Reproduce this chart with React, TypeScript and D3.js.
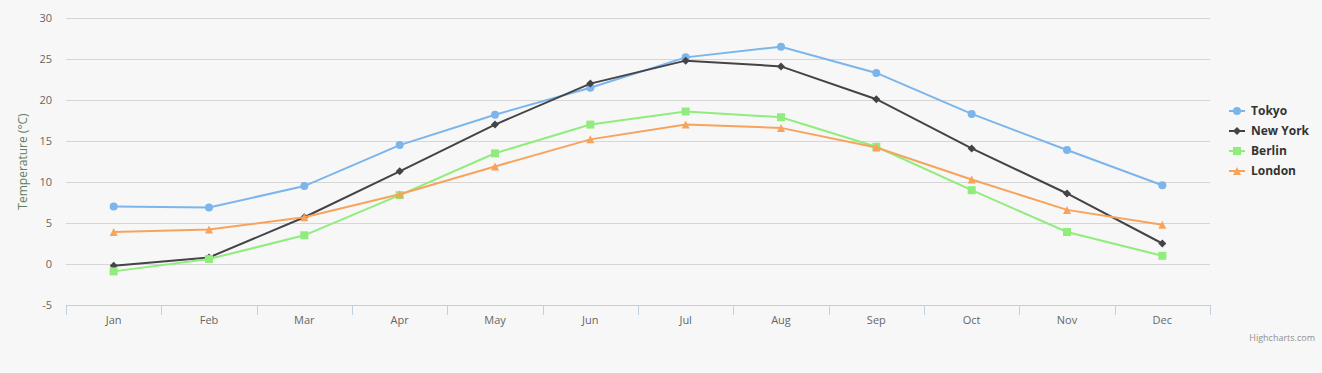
import React from 'react';
import * as d3 from 'd3';

// monthly average temperatures
const months = ['Jan', 'Feb', 'Mar', 'Apr', 'May', 'Jun', 'Jul', 'Aug', 'Sep', 'Oct', 'Nov', 'Dec'];
const tokyo = [7.0, 6.9, 9.5, 14.5, 18.2, 21.5, 25.2, 26.5, 23.3, 18.3, 13.9, 9.6];
const newYork = [-0.2, 0.8, 5.7, 11.3, 17.0, 22.0, 24.8, 24.1, 20.1, 14.1, 8.6, 2.5];
const berlin = [-0.9, 0.6, 3.5, 8.4, 13.5, 17.0, 18.6, 17.9, 14.3, 9.0, 3.9, 1.0];
const london = [3.9, 4.2, 5.7, 8.5, 11.9, 15.2, 17.0, 16.6, 14.2, 10.3, 6.6, 4.8];
const yTicks = [-5, 0, 5, 10, 15, 20, 25, 30];

const series = [
  { name: 'Tokyo', data: tokyo, color: '#7cb5ec', marker: 'circle' },
  { name: 'New York', data: newYork, color: '#434348', marker: 'diamond' },
  { name: 'Berlin', data: berlin, color: '#90ed7d', marker: 'square' },
  { name: 'London', data: london, color: '#f7a35c', marker: 'triangle' },
];

const W = 1322, H = 373;
const margin = { top: 18, left: 66, right: 112, bottom: 68 };
const font = '"Open Sans", "DejaVu Sans", sans-serif';

function Marker({ type, x, y, color }) {
  if (type === 'circle') return <circle cx={x} cy={y} r={4} fill={color} />;
  if (type === 'square') return <rect x={x - 4} y={y - 4} width={8} height={8} fill={color} />;
  if (type === 'diamond') return <path d={`M${x},${y - 4}L${x + 4},${y}L${x},${y + 4}L${x - 4},${y}Z`} fill={color} />;
  return <path d={`M${x},${y - 4}L${x + 4},${y + 4}L${x - 4},${y + 4}Z`} fill={color} />;
}

export default function App() {
  const x = d3.scaleBand().domain(months).range([margin.left, W - margin.right]);
  const y = d3.scaleLinear().domain([-5, 30]).range([H - margin.bottom, margin.top]);
  const cx = (m) => x(m) + x.bandwidth() / 2;
  const line = d3.line().x((d, i) => cx(months[i])).y((d) => y(d));
  const bottom = H - margin.bottom;
  const ticksX = months.map((m) => x(m)).concat([W - margin.right]);

  return (
    <svg width={W} height={H} style={{ position: 'absolute', left: 0, top: 0, background: '#f7f7f7', fontFamily: font }}>
      <rect width={W} height={H} fill="#f7f7f7" />
      {yTicks.map((t) => (
        <g key={t}>
          {t !== -5 && <line x1={margin.left} x2={W - margin.right} y1={y(t) + 0.5} y2={y(t) + 0.5} stroke="#d6d6d6" />}
          <text x={margin.left - 14} y={y(t) + 4} textAnchor="end" fontSize={11} fill="#666">{t}</text>
        </g>
      ))}
      <text transform={`translate(27,${(margin.top + bottom) / 2}) rotate(-90)`} textAnchor="middle" fontSize={12} fill="#5f7f5f">Temperature (°C)</text>
      <line x1={margin.left} x2={W - margin.right} y1={bottom + 0.5} y2={bottom + 0.5} stroke="#c0d0e0" />
      {ticksX.map((tx, i) => (
        <line key={i} x1={Math.round(tx) + 0.5} x2={Math.round(tx) + 0.5} y1={bottom} y2={bottom + 10} stroke="#c0d0e0" />
      ))}
      {months.map((m) => (
        <text key={m} x={cx(m)} y={bottom + 19} textAnchor="middle" fontSize={11} fill="#666">{m}</text>
      ))}
      {series.map((s) => (
        <g key={s.name}>
          <path d={line(s.data)} fill="none" stroke={s.color} strokeWidth={2} />
          {s.data.map((v, i) => (
            <Marker key={i} type={s.marker} x={cx(months[i])} y={y(v)} color={s.color} />
          ))}
        </g>
      ))}
      {series.map((s, i) => {
        const ly = 111 + i * 20;
        return (
          <g key={s.name}>
            <line x1={1229} x2={1245} y1={ly} y2={ly} stroke={s.color} strokeWidth={2} />
            <Marker type={s.marker} x={1237} y={ly} color={s.color} />
            <text x={1251} y={ly + 4} fontSize={12} fontWeight="bold" fill="#333">{s.name}</text>
          </g>
        );
      })}
      <text x={1315} y={341} textAnchor="end" fontSize={9} fill="#909090">Highcharts.com</text>
    </svg>
  );
}
